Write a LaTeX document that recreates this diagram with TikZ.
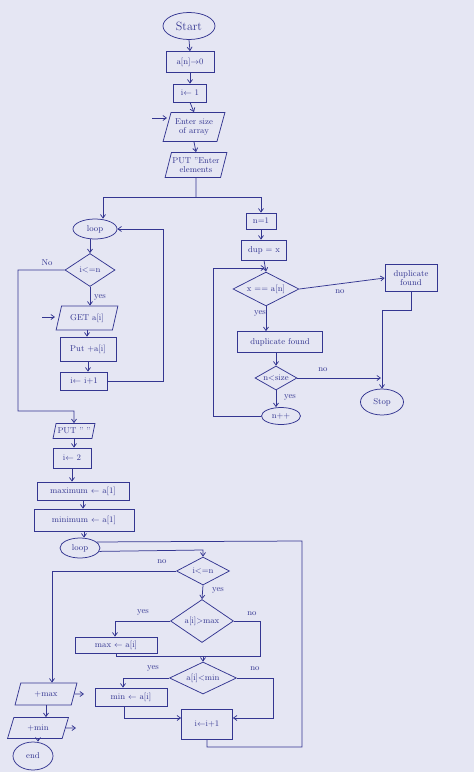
\documentclass[tikz,border=0pt]{standalone}
\usetikzlibrary{shapes.geometric,arrows.meta}
\definecolor{paper}{RGB}{229,230,243}
\definecolor{ink}{RGB}{52,54,145}
\tikzset{
  base/.style={draw=ink, text=ink, line width=0.75pt, font=\fontsize{8.5}{9.5}\selectfont, inner sep=1pt, align=center},
  proc/.style={base, rectangle},
  io/.style={base, trapezium, trapezium left angle=70, trapezium right angle=110, trapezium stretches=true},
  dec/.style={base, diamond, aspect=1.5, inner sep=0pt},
  term/.style={base, ellipse, inner sep=0pt},
  lbl/.style={text=ink, font=\fontsize{8.5}{9.5}\selectfont, inner sep=0pt},
  ln/.style={draw=ink, line width=0.75pt},
  arr/.style={draw=ink, line width=0.75pt, -{Straight Barb[length=3.5pt,width=5pt]}}
}
\begin{document}
\begin{tikzpicture}[x=1pt,y=-1pt]
\fill[paper] (0,0) rectangle (474,772);
\useasboundingbox (0,0) rectangle (474,772);

% ---------- top chain ----------
\node[term, minimum width=52pt, minimum height=27pt, font=\fontsize{12}{13}\selectfont] (start) at (189,26) {Start};
\node[proc, minimum width=48pt, minimum height=21pt] (an) at (190,62) {a[n]$\rightarrow$0};
\node[proc, minimum width=33pt, minimum height=18pt] (i1) at (190,93) {i$\leftarrow$ 1};
\node[io, minimum width=62pt, minimum height=29pt] (size) at (194,127) {Enter size\\of array};
\node[io, minimum width=54pt, minimum height=25pt] (put1) at (196,165) {PUT "Enter\\elements};

\draw[arr] (start.south) -- (an.north);
\draw[arr] (an.south) -- (i1.north);
\draw[arr] (i1.south) -- (size.north);
\draw[arr] (size.south) -- (put1.north);
\coordinate (sin) at (152,118);
\draw[arr] (sin) -- (167,118);

\coordinate (j0) at (196,197);
\coordinate (jl) at (103,197);
\coordinate (jr) at (261,197);
\draw[ln] (put1.south) -- (j0);
\draw[ln] (jl) -- (jr);

% ---------- left loop (input) ----------
\node[term, minimum width=44pt, minimum height=20pt] (loop1) at (95,229) {loop};
\node[dec, minimum width=50pt, minimum height=33pt] (d1) at (90,270) {i<=n};
\node[io, minimum width=62pt, minimum height=24pt] (get) at (87,318) {GET a[i]};
\node[proc, minimum width=56pt, minimum height=24pt] (puta) at (88,349) {Put +a[i]};
\node[proc, minimum width=47pt, minimum height=18pt] (inc1) at (84,381) {i$\leftarrow$ i+1};

\draw[arr] (jl) -- (jl |- loop1.north);
\draw[arr] (d1.north |- loop1.south) -- (d1.north);
\draw[arr] (d1.south) -- (d1.south |- get.north);
\draw[arr] (get.south) -- (get.south |- puta.north);
\draw[arr] (puta.south) -- (puta.south |- inc1.north);
\coordinate (gin) at (42,317);
\draw[arr] (gin) -- (55,317);
\coordinate (cR) at (163,229);
\draw[arr] (inc1.east) -| (cR) -- (loop1.east);

\node[io, minimum width=42pt, minimum height=15pt] (put2) at (74,431) {PUT " "};
\coordinate (cA) at (18,411);
\coordinate (cB) at (74,411);
\draw[arr] (d1.west) -| (cA) -- (cB) -- (put2.north);
\node[lbl] (lno1) at (47,263) {No};
\node[lbl] (lyes1) at (100,297) {yes};

% ---------- right side (duplicate search) ----------
\node[proc, minimum width=30pt, minimum height=16pt] (n1) at (261,221) {n=1};
\node[proc, minimum width=45pt, minimum height=20pt] (dup) at (264,250) {dup = x};
\node[dec, minimum width=66pt, minimum height=32pt] (d5) at (266,289) {x == a[n]};
\node[proc, minimum width=52pt, minimum height=27pt] (dupf) at (411,278) {duplicate\\found};
\node[proc, minimum width=85pt, minimum height=21pt] (dupm) at (280,342) {duplicate found};
\node[dec, minimum width=42pt, minimum height=24pt] (d6) at (276,378) {n<size};
\node[term, minimum width=43pt, minimum height=26pt] (stop) at (382,402) {Stop};
\node[term, minimum width=39pt, minimum height=17pt] (npp) at (281,416) {n++};

\draw[arr] (jr) -- (n1.north);
\draw[arr] (n1.south) -- (n1.south |- dup.north);
\draw[arr] (dup.south) -- (d5.north);
\coordinate (cL) at (213,268);
\coordinate (c5) at (265,268);
\draw[arr] (npp.west) -| (cL) -- (c5);
\draw[arr] (d5.east) -- (dupf.west);
\draw[arr] (d5.south) -- (d5.south |- dupm.north);
\draw[arr] (d6.north |- dupm.south) -- (d6.north);
\coordinate (c7) at (411,310);
\coordinate (c8) at (382,310);
\draw[arr] (dupf.south) -- (c7) -- (c8) -- (stop.north);
\coordinate (m2) at (381,378);
\draw[arr] (d6.east) -- (m2);
\draw[arr] (d6.south) -- (d6.south |- npp.north);
\node[lbl] (lno2) at (340,292) {no};
\node[lbl] (lyes2) at (260,313) {yes};
\node[lbl] (lno3) at (323,370) {no};
\node[lbl] (lyes3) at (290,397) {yes};

% ---------- lower part (max / min) ----------
\node[proc, minimum width=38pt, minimum height=20pt] (i2) at (72,458) {i$\leftarrow$ 2};
\node[proc, minimum width=92pt, minimum height=18pt] (maxi) at (83,491) {maximum $\leftarrow$ a[1]};
\node[proc, minimum width=100pt, minimum height=22pt] (mini) at (84,520) {minimum $\leftarrow$ a[1]};
\node[term, minimum width=40pt, minimum height=20pt] (loop2) at (80,548) {loop};
\node[dec, minimum width=53pt, minimum height=28pt] (d2) at (203,571) {i<=n};
\node[dec, minimum width=63pt, minimum height=43pt] (d3) at (202,621) {a[i]>max};
\node[proc, minimum width=82pt, minimum height=16pt] (maxb) at (116,645) {max $\leftarrow$ a[i]};
\node[dec, minimum width=67pt, minimum height=32pt] (d4) at (203,678) {a[i]<min};
\node[proc, minimum width=72pt, minimum height=18pt] (minb) at (131,697) {min $\leftarrow$ a[i]};
\node[proc, minimum width=51pt, minimum height=30pt] (inc2) at (207,724) {i$\leftarrow$i+1};
\node[io, minimum width=62pt, minimum height=22pt] (omax) at (46,694) {+max};
\node[io, minimum width=61pt, minimum height=21pt] (omin) at (38,728) {+min};
\node[term, minimum width=40pt, minimum height=28pt] (endn) at (33,756) {end};

\draw[arr] (put2.south) -- (put2.south |- i2.north);
\draw[arr] (i2.south) -- (i2.south |- maxi.north);
\draw[arr] (maxi.south) -- (maxi.south |- mini.north);
\draw[arr] (mini.south) -- (mini.south |- loop2.north);

\coordinate (c9) at (207,747);
\coordinate (c10) at (302,747);
\coordinate (c11) at (302,541);
\draw[ln] (inc2.south) -- (c9) -- (c10) -- (c11) -- (loop2.20);
\coordinate (c12) at (203,550);
\draw[arr] (loop2.-10) -- (c12) -- (d2.north);

\coordinate (c13) at (52,571);
\draw[arr] (d2.west) -- (c13) -- (c13 |- omax.north);
\draw[arr] (d2.south) -- (d3.north);
\coordinate (c14) at (115,621);
\draw[arr] (d3.west) -- (c14) -- (c14 |- maxb.north);
\coordinate (m1) at (203,656);
\coordinate (c15) at (260,656);
\draw[ln] (d3.east) -| (c15) -- (m1);
\draw[ln] (maxb.south) |- (m1);
\draw[arr] (m1) -- (d4.north);
\coordinate (c17) at (123,678);
\draw[arr] (d4.west) -- (c17) -- (c17 |- minb.north);
\coordinate (c19) at (273,718);
\draw[arr] (d4.east) -| (c19) -- (c19 -| inc2.east);
\coordinate (c20) at (124,718);
\draw[arr] (c20 |- minb.south) -- (c20) -- (c20 -| inc2.west);

\draw[arr] (omax.south) -- (omax.south |- omin.north);
\draw[arr] (omin.south) -- (omin.south |- endn.north);
\coordinate (oma) at (84,694);
\coordinate (omi) at (76,728);
\draw[arr] (omax.east) -- (oma);
\draw[arr] (omin.east) -- (omi);

\node[lbl] (lno4) at (162,562) {no};
\node[lbl] (lyes4) at (218,590) {yes};
\node[lbl] (lyes5) at (143,612) {yes};
\node[lbl] (lno5) at (252,614) {no};
\node[lbl] (lyes6) at (153,668) {yes};
\node[lbl] (lno6) at (255,669) {no};
\end{tikzpicture}
\end{document}
